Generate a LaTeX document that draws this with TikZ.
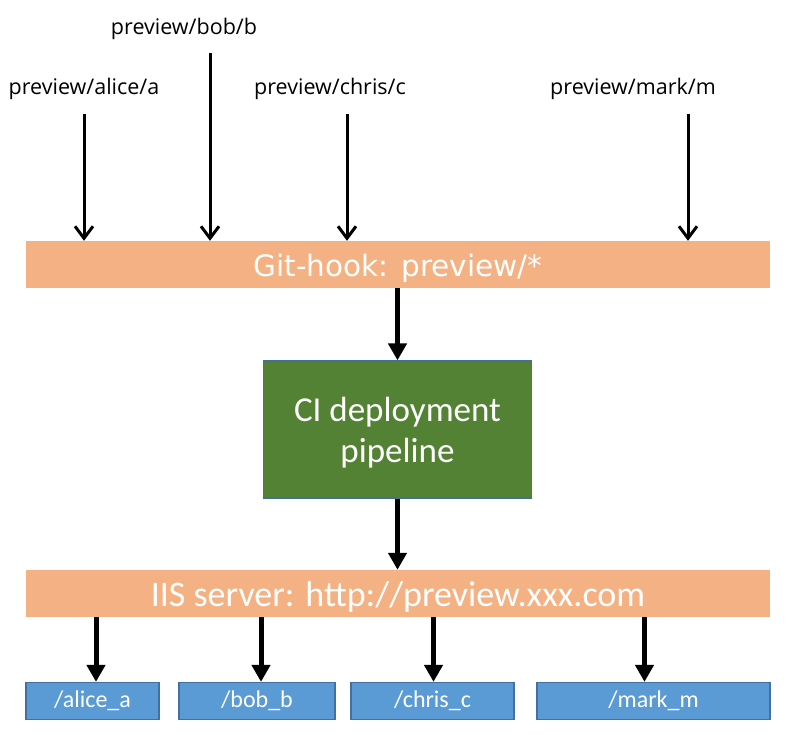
\documentclass[tikz,border=0pt]{standalone}
\usepackage{fontspec}
\setmainfont{Carlito}
\newfontfamily\labfont{Open Sans}
\newfontfamily\gitfont{DejaVu Sans}
\usetikzlibrary{arrows.meta}
\definecolor{orangebar}{HTML}{F4B183}
\definecolor{greenbox}{HTML}{548235}
\definecolor{bluebox}{HTML}{5B9BD5}
\definecolor{blueedge}{HTML}{41719C}
% push text down inside a node by #1 (adds 2*#1 of empty height on top)
\newcommand{\pushdown}[2]{\raisebox{0pt}[\dimexpr\height+#1+#1\relax][\depth]{#2}}
\tikzset{
  bar/.style={fill=orangebar, draw=none, minimum width=744pt, minimum height=47pt, inner sep=0pt, text=white},
  cibox/.style={fill=greenbox, draw=blueedge, line width=1.2pt, minimum width=268pt, minimum height=137pt, inner sep=0pt, text=white, align=center, font=\fontsize{35}{41}\selectfont},
  target/.style={fill=bluebox, draw=blueedge, line width=1.2pt, minimum height=37pt, inner sep=0pt, text=white, font=\fontsize{24}{26}\selectfont},
  branch/.style={font=\labfont\fontsize{21.5}{24}\selectfont, text=black, inner sep=0pt},
  thin arrow/.style={line width=3pt, -{Straight Barb[length=12pt,width=18pt,line width=3pt]}},
  thick arrow/.style={line width=5pt, -{Triangle[length=17pt,width=18pt]}}
}
\begin{document}
\begin{tikzpicture}[x=1pt,y=-1pt]
\useasboundingbox (0,0) rectangle (803,735);
% labels
\node[branch] (la) at (84,89) {preview/alice/a};
\node[branch] (lb) at (184,29) {preview/bob/b};
\node[branch] (lc) at (330,89) {preview/chris/c};
\node[branch] (lm) at (633,89) {preview/mark/m};
% bars and boxes
\node[bar, font=\gitfont\fontsize{29.5}{32}\selectfont] (git) at (398,264.5) {\pushdown{3.5pt}{Git-hook: preview/*}};
\node[cibox] (ci) at (397.5,429.5) {\pushdown{3.5pt}{\shortstack{CI deployment\\[8pt]pipeline}}};
\node[bar, font=\fontsize{36}{40}\selectfont] (iis) at (398,593.5) {\pushdown{3pt}{IIS server: http://preview.xxx.com}};
\node[target, minimum width=133pt] (ta) at (92.5,701) {/alice\_a};
\node[target, minimum width=156pt] (tb) at (257,701) {/bob\_b};
\node[target, minimum width=163pt] (tc) at (432.5,701) {/chris\_c};
\node[target, minimum width=233pt] (tm) at (653.5,701) {/mark\_m};
% arrow start points
\coordinate (sa) at (84,114);
\coordinate (sb) at (210,53);
\coordinate (sc) at (347,114);
\coordinate (sm) at (688,114);
\draw[thin arrow] (sa) -- (sa |- git.north);
\draw[thin arrow] (sb) -- (sb |- git.north);
\draw[thin arrow] (sc) -- (sc |- git.north);
\draw[thin arrow] (sm) -- (sm |- git.north);
\draw[thick arrow] (ci.north |- git.south) -- (ci.north);
\draw[thick arrow] (ci.south) -- (ci.south |- iis.north);
\coordinate (da) at (96,0);
\coordinate (db) at (261,0);
\coordinate (dc) at (433.5,0);
\coordinate (dm) at (644.5,0);
\draw[thick arrow] (da |- iis.south) -- (da |- ta.north);
\draw[thick arrow] (db |- iis.south) -- (db |- tb.north);
\draw[thick arrow] (dc |- iis.south) -- (dc |- tc.north);
\draw[thick arrow] (dm |- iis.south) -- (dm |- tm.north);
\end{tikzpicture}
\end{document}
